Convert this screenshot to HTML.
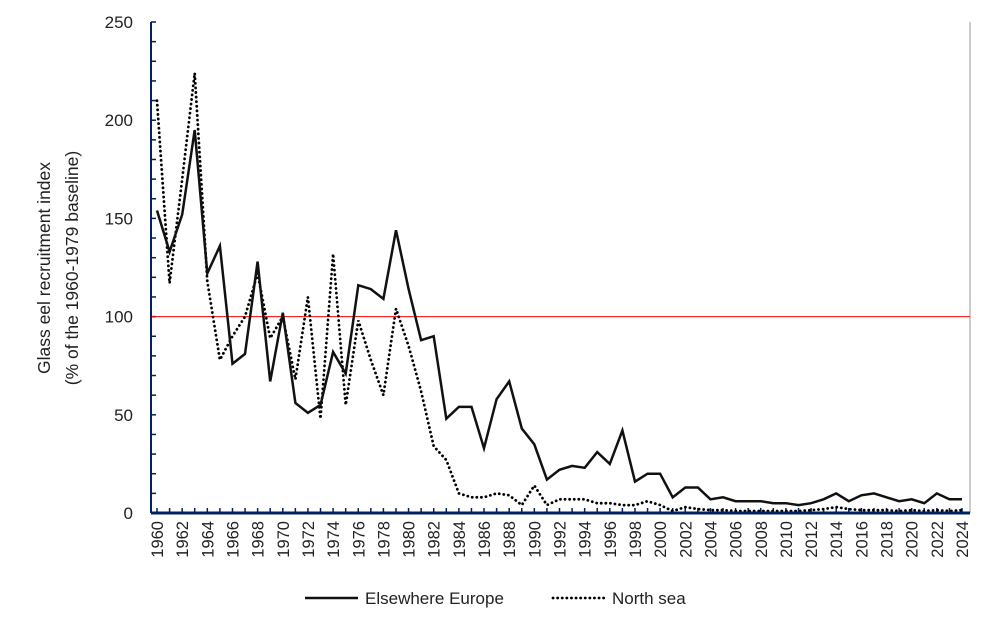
<!DOCTYPE html>
<html><head><meta charset="utf-8"><style>
body{margin:0;background:#fff;font-family:"Liberation Sans","Noto Sans CJK JP",sans-serif;}
</style></head><body>
<svg id="c" width="992" height="630" xmlns="http://www.w3.org/2000/svg" font-family="Liberation Sans, Noto Sans CJK JP, sans-serif"></svg>
<script>
const years=[];for(let y=1960;y<=2024;y++)years.push(y);
const elsewhere=[154,133,152,195,122,136,76,81,128,67,102,56,51,55,82,71,116,114,109,144,114,88,90,48,54,54,33,58,67,43,35,17,22,24,23,31,25,42,16,20,20,8,13,13,7,8,6,6,6,5,5,4,5,7,10,6,9,10,8,6,7,5,10,7,7];
const northSea=[210,117,170,224,118,78,90,100,122,89,100,68,110,48,132,55,98,78,60,104,85,62,34,27,10,8,8,10,9,4,14,4,7,7,7,5,5,4,4,6,4,1,3,2,1.5,1.5,1,1,1,1,1,1,1.5,2,3,2,1.5,1.5,1.5,1,1.5,1,1.5,1,1.5];
const yTicks=[0,50,100,150,200,250];
const baseline=100;
const svg=document.getElementById('c');const NS='http://www.w3.org/2000/svg';
function mk(t,a,p){const e=document.createElementNS(NS,t);for(const k in a)e.setAttribute(k,a[k]);(p||svg).appendChild(e);return e;}
const x0=151,x1=970,yb=513,yt=22;
const X=i=>157+i*(962-157)/64;
const Y=v=>yb-(v/250)*(yb-yt);
let e=mk('line',{x1:x1,y1:yt,x2:x1,y2:yb,stroke:'#999','stroke-width':1});

for(let v=0;v<=250;v+=10){e=mk('line',{x1:x0,y1:Y(v),x2:x0+5,y2:Y(v),stroke:'#002060','stroke-width':1.5});
}
yTicks.forEach(v=>{e=mk('text',{x:133,y:Y(v)+6,'text-anchor':'end','font-size':17,fill:'#222'});e.textContent=v;
});
e=mk('line',{x1:x0,y1:Y(baseline),x2:x1,y2:Y(baseline),stroke:'#f00','stroke-width':1});

years.forEach((yr,i)=>{e=mk('line',{x1:X(i),y1:yb,x2:X(i),y2:yb-5,stroke:'#002060','stroke-width':1.5});

if(yr%2==0){e=mk('text',{x:0,y:0,transform:`translate(${X(i)+6},${yb+8}) rotate(-90)`,'text-anchor':'end','font-size':16.5,fill:'#222'});e.textContent=yr;
}});
const pts=a=>a.map((v,i)=>X(i).toFixed(1)+','+Y(v).toFixed(1)).join(' ');
e=mk('polyline',{points:pts(northSea),fill:'none',stroke:'#000','stroke-width':2.8,'stroke-dasharray':'0.1 4.5','stroke-linecap':'round'});

e=mk('polyline',{points:pts(elsewhere),fill:'none',stroke:'#111','stroke-width':2.5,'stroke-linejoin':'miter'});

e=mk('line',{x1:x0,y1:yt,x2:x0,y2:yb,stroke:'#002060','stroke-width':2});

e=mk('line',{x1:x0,y1:yb,x2:x1,y2:yb,stroke:'#002060','stroke-width':3});

e=mk('text',{x:0,y:0,transform:'translate(50,268) rotate(-90)','text-anchor':'middle','font-size':17.5,fill:'#222'});e.textContent='Glass eel recruitment index';

e=mk('text',{x:0,y:0,transform:'translate(78,268) rotate(-90)','text-anchor':'middle','font-size':17.5,fill:'#222'});e.textContent='(%  of the 1960-1979 baseline)';

const lg=mk('g',{});
e=mk('line',{x1:305,y1:598,x2:358,y2:598,stroke:'#111','stroke-width':2.5},lg);

e=mk('text',{x:365,y:604,'font-size':17,fill:'#222'},lg);e.textContent='Elsewhere Europe';

e=mk('line',{x1:553,y1:598,x2:604,y2:598,stroke:'#000','stroke-width':2.8,'stroke-dasharray':'0.1 4.5','stroke-linecap':'round'},lg);

e=mk('text',{x:612,y:604,'font-size':17,fill:'#222'},lg);e.textContent='North sea';

</script>
</body></html>
